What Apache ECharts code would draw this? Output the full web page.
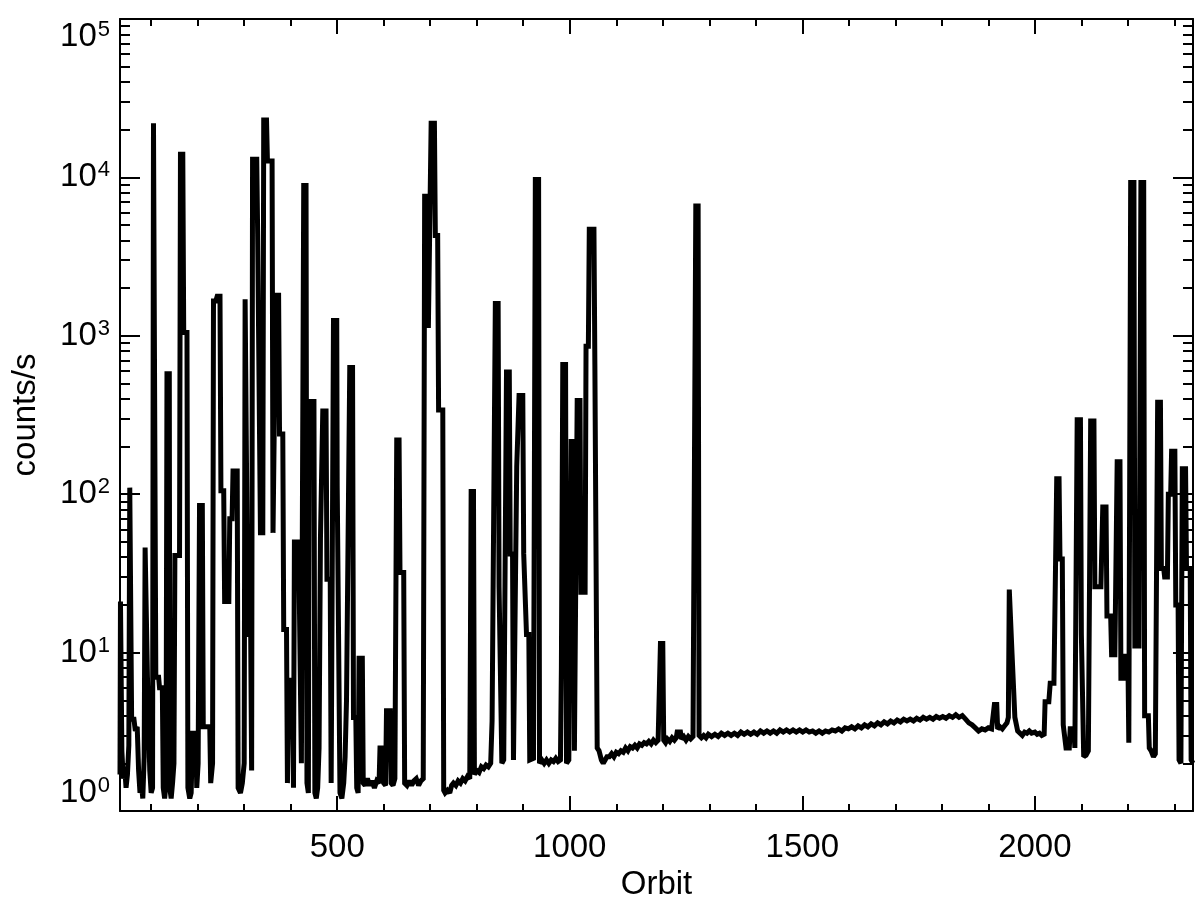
<!DOCTYPE html>
<html><head><meta charset="utf-8">
<script src="https://cdn.jsdelivr.net/npm/echarts@6/dist/echarts.min.js"></script>
<style>html,body{margin:0;padding:0;background:#fff}#c{width:1200px;height:898px}</style>
</head><body><div id="c"></div>
<script>
// [orbit, counts/s]
const earlyFlares = [
[33,1.7],[34,21],[36,21],[37,2.4],[40,1.6],[43,1.9],[46,1.4],[49,1.7],[52,2.6],
[54,110],[57,110],[58,3.8],[63,3.8],[66,3.2],[70,3.4],[73,1.8],[76,1.3],[79,1.5],[82,1.2],[85,2.2],
[87,46],[91,46],[92,7],[96,7],[97,1.8],[100,1.3],[103,1.4],
[105,22000],[109,22000],[110,7],[116,7],[118,6],[124,6],[126,1.4],[129,1.2],[132,1.5],
[134,575],[139,575],[140,1.4],[143,1.2],[146,1.5],[149,2.0],
[151,41],[161,41],[163,14000],[168,14000],[170,1050],[177,1050],[179,1.4],
[183,1.2],[186,1.3],[189,3.1],[196,3.1],[198,1.4],
[201,2.0],[204,85],[210,85],[212,3.4],[226,3.4],[228,1.5],
[232,2.0],[234,1660],[239,1660],[242,1780],[248,1780],[250,105],[256,105],[258,21],[267,21],[269,70],[274,70],[276,140],[285,140],[287,1.4],[292,1.3],[296,1.5],
[300,2.0],[302,1700],[306,1700],[308,13],[314,13],[316,1.8],
[318,13000],[327,13000],[329,4400],[333,4400],[335,57],[340,57],[342,23000],[348,23000],[350,12700],[360,12700],[362,57],[366,57],[368,1800],[374,1800],[376,240],[383,240],[385,14],[391,14],[393,1.5],[396,6.7],[404,6.7],[406,1.4],[408,50],[416,50],[418,30],[421,30],
[423,2.0],[428,8900],[433,8900],[435,1.5],[438,1.3],
[440,385],[450,385],[452,1.3],[455,1.2],[458,1.4],[461,2.5],
[464,53],[467,53],[469,335],[476,335],[478,29],[485,29],
[487,1.5],[492,1250],[499,1250],[500,112],[504,112],[506,1.3],[510,1.2],[514,1.5],[517,2.2],[520,5],[524,5],
[527,630],[533,630],[535,3.9],[540,3.9],[542,1.4],[545,1.3],
[547,9.2],[554,9.2],[556,1.5],[560,1.45],[565,1.6],[570,1.45],[575,1.55],[580,1.4],[585,1.55],[590,1.5],
[592,2.5],[598,2.5],[600,1.5],[604,1.45],[606,4.3],[614,4.3],[616,1.5],[620,1.45],[624,1.6],
[628,220],[633,220],[635,32],[643,32],[645,1.5],[650,1.45],[655,1.55],[660,1.45],[665,1.55],[670,1.6],[675,1.45],[680,1.55],[685,1.6],
[688,7600],[694,7600],[696,1120],[700,1120],[702,22000],[709,22000],[711,4300],[716,4300],[718,340],[727,340],[729,1.35],[732,1.3],[737,1.35],[742,1.3],[746,1.45],[750,1.5],[755,1.45],[760,1.55],[765,1.5],[770,1.6],[775,1.55],[780,1.65],[785,1.6],
[788,104],[793,104],[795,1.7],[800,1.8],[805,1.75],[810,1.9],[815,1.85],[820,1.95],[825,1.9],[830,2.0],
[833,3.7],[837,3.7],[840,1600],[846,1600],[848,26],[852,26],[854,2.0],[858,2.1],
[864,590],[870,590],[872,42],[877,42],[879,2.1],[883,2.05],
[886,150],[889,150],[891,420],[899,420],[901,42],[905,42],[907,13],[912,13],[914,2.1],[918,2.05],[922,2.15],
[926,9700],[933,9700],[935,2.0],[940,2.1],[945,2.0],
[950,2.1],[955,2.0],[960,2.1],[965,2.05],[970,2.15],[975,2.05],[980,2.1],
[982,8],[985,660],[991,660],[993,2.0],[998,2.1],
[1003,215],[1008,215],[1010,2.4],[1013,2.4],
[1016,390],[1022,390],[1024,24],[1033,24],
[1035,860],[1040,860],[1042,4700],[1052,4700],[1054,660],[1057,660],[1059,2.5],[1063,2.4],[1068,2.1],[1072,2.0],[1076,2.1],[1080,2.2]
];
const quietBaseline = [
[1085,2.2],[1090,2.3],[1095,2.2],[1100,2.35],[1105,2.3],[1110,2.4],[1115,2.35],[1120,2.5],[1125,2.4],[1130,2.55],[1135,2.5],[1140,2.6],[1145,2.5],[1150,2.65],[1155,2.6],[1160,2.7],[1165,2.65],[1170,2.75],[1175,2.65],[1180,2.8],[1185,2.7],[1190,2.8],
[1193,2.8],[1195,11.4],[1200,11.4],[1202,2.8],[1206,2.7],[1210,2.85],[1215,2.75],[1220,2.9],[1225,2.8],
[1229,2.9],[1231,3.15],[1238,3.15],[1240,2.85],[1245,2.95],[1250,2.8],[1255,2.95],[1260,2.85],[1265,2.95],[1269,2.9],
[1271,6600],[1276,6600],[1278,3.0],[1283,2.9],[1288,3.0],[1293,2.9],[1298,3.05],
[1305,2.95],[1312,3.05],[1319,2.95],[1326,3.1],[1333,3.0],[1340,3.1],[1347,3.0],[1354,3.1],[1361,3.0],[1368,3.15],[1375,3.05],[1382,3.15],[1389,3.05],[1396,3.15],[1403,3.05],[1410,3.2],[1417,3.1],[1424,3.2],[1431,3.1],[1438,3.2],[1445,3.1],[1452,3.25],[1459,3.15],[1466,3.25],[1473,3.15],[1480,3.25],[1487,3.15],[1494,3.25],[1501,3.15],[1508,3.25],[1515,3.15],[1522,3.2],[1529,3.1],[1536,3.2],[1543,3.1],[1550,3.2],[1557,3.15],[1564,3.25],[1571,3.2],[1578,3.3],[1585,3.2],[1592,3.35],[1599,3.3],[1606,3.4],[1613,3.3],[1620,3.45],[1627,3.35],[1634,3.5],[1641,3.4],[1648,3.55],[1655,3.45],[1662,3.6],[1669,3.5],[1676,3.65],[1683,3.55],[1690,3.7],[1697,3.6],[1704,3.75],[1711,3.65],[1718,3.8],[1725,3.7],[1732,3.8],[1739,3.7],[1746,3.85],[1753,3.75],[1760,3.9],[1767,3.8],[1774,3.9],[1781,3.8],[1788,3.95],[1795,3.85],[1802,3.95],[1809,3.85],[1816,4.0],[1823,3.9],[1830,4.05],[1837,3.9],[1844,4.0],[1851,3.8],[1858,3.6],[1865,3.5],[1872,3.35],[1879,3.2],[1886,3.3],[1893,3.25],[1900,3.35],[1907,3.3],
[1911,3.3],[1913,4.7],[1918,4.7],[1920,3.3],[1925,3.4],[1930,3.3],[1935,3.45],[1940,3.6],[1943,3.9],[1945,25],[1949,25],[1951,9.7],[1955,9.7],[1957,3.9],[1961,3.9],[1963,3.2],[1968,3.1],[1973,3.0],[1978,3.15],[1983,3.1],[1988,3.2]
];
const lateFlares = [
[1993,3.1],[2000,3.15],[2005,3.05],[2010,3.1],[2015,3.0],[2020,3.05],
[2022,4.9],[2030,4.9],[2033,6.4],[2041,6.4],
[2047,125],[2052,125],[2054,39],[2059,39],[2061,3.5],[2065,3.5],[2067,2.5],[2074,2.5],[2076,3.3],[2084,3.3],[2086,2.5],
[2091,295],[2098,295],[2100,13],[2103,13],[2105,2.2],[2110,2.25],[2115,2.4],
[2120,290],[2127,290],[2129,26],[2142,26],
[2146,83],[2153,83],[2155,17],[2163,17],[2165,9.7],[2172,9.7],
[2177,160],[2183,160],[2185,6.9],[2190,6.9],[2192,9.5],[2200,9.5],[2202,2.7],
[2206,9300],[2213,9300],[2215,11],[2224,11],
[2228,9300],[2234,9300],[2236,4],[2244,4],[2246,2.5],[2250,2.4],[2255,2.2],[2259,2.3],
[2264,380],[2270,380],[2272,34],[2277,34],[2279,30],[2285,30],[2287,100],[2292,100],
[2294,187],[2301,187],[2303,20],[2308,20],[2310,2.1],[2314,2.0],
[2317,145],[2324,145],[2326,34],[2334,34],[2336,2.1],[2340,2.0]
];
const xMajorTicks = [500,1000,1500,2000];
const xMinorTicks = [100,200,300,400,600,700,800,900,1100,1200,1300,1400,1600,1700,1800,1900,2100,2200,2300];
const yMajorTicks = [1,10,100,1000,10000,100000];
const yMinorTicks = [2,3,4,5,6,7,8,9,20,30,40,50,60,70,80,90,200,300,400,500,600,700,800,900,2000,3000,4000,5000,6000,7000,8000,9000,20000,30000,40000,50000,60000,70000,80000,90000];

const FONT = '"Liberation Sans", Arial, Helvetica, sans-serif';
const X_MIN = 33, X_MAX = 2340;
const chart = echarts.init(document.getElementById('c'), null, {renderer:'canvas'});

function xAx(pos, ticks, len, major, labels) {
  return {
    type:'value', min:X_MIN, max:X_MAX, position:pos,
    axisLine:{show:major, onZero:false, lineStyle:{color:'#000', width:2}},
    axisTick:{show:true, inside:true, length:len, customValues:ticks, lineStyle:{color:'#000', width:2}},
    axisLabel:labels ? {show:true, customValues:ticks, formatter: v => String(v), fontSize:33, fontFamily:FONT, color:'#000', margin:20} : {show:false},
    splitLine:{show:false},
    name: labels ? 'Orbit' : '', nameLocation:'middle', nameGap:52,
    nameTextStyle:{fontSize:33, fontFamily:FONT, color:'#000'}
  };
}
function yAx(pos, ticks, len, major, labels) {
  return {
    type:'log', logBase:10, min:1, max:100000, position:pos,
    axisLine:{show:major, onZero:false, lineStyle:{color:'#000', width:2}},
    axisTick:{show:true, inside:true, length:len, customValues:ticks, lineStyle:{color:'#000', width:2}},
    axisLabel:labels ? {
      show:true, customValues:ticks, margin:10, color:'#000',
      verticalAlignMinLabel:'bottom', verticalAlignMaxLabel:'top',
      formatter: v => '{b|10}{e|' + Math.round(Math.log10(v)) + '}',
      rich:{ b:{fontSize:33, fontFamily:FONT, color:'#000'}, e:{fontSize:22, fontFamily:FONT, color:'#000', verticalAlign:'top', padding:[0,0,14,1]} }
    } : {show:false},
    splitLine:{show:false}, minorTick:{show:false},
    name: labels ? 'counts/s' : '', nameLocation:'middle', nameGap:78, nameRotate:90,
    nameTextStyle:{fontSize:33, fontFamily:FONT, color:'#000'}
  };
}

chart.setOption({
  animation:false,
  backgroundColor:'#fff',
  grid:{left:120, right:7, top:19, bottom:87, containLabel:false, outerBoundsMode:'none'},
  xAxis:[
    xAx('bottom', xMajorTicks, 15, true, true),
    xAx('bottom', xMinorTicks, 7, false, false),
    xAx('top', xMajorTicks, 15, true, false),
    xAx('top', xMinorTicks, 7, false, false)
  ],
  yAxis:[
    yAx('left', yMajorTicks, 20, true, true),
    yAx('left', yMinorTicks, 10, false, false),
    yAx('right', yMajorTicks, 20, true, false),
    yAx('right', yMinorTicks, 10, false, false)
  ],
  series:[{
    type:'line', xAxisIndex:0, yAxisIndex:0,
    data: earlyFlares.concat(quietBaseline, lateFlares),
    showSymbol:false, symbol:'none', sampling:null, clip:true,
    lineStyle:{color:'#000', width:5, join:'miter', miterLimit:2}
  }]
});
</script></body></html>
